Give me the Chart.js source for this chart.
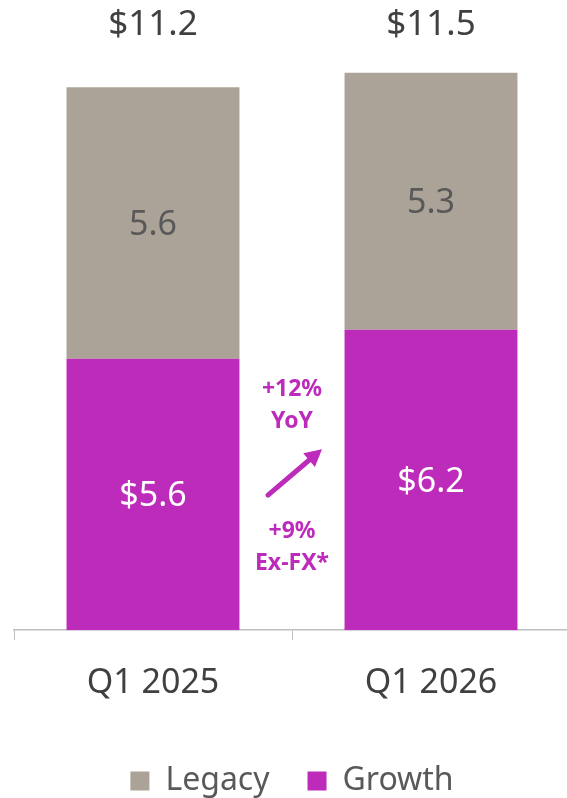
<!DOCTYPE html>
<html>
<head>
<meta charset="utf-8">
<script src="https://cdn.jsdelivr.net/npm/chart.js@4.4.1/dist/chart.umd.min.js"></script>
<style>
html, body { margin: 0; padding: 0; background: #fff; overflow: hidden; }
#wrap { width: 570px; height: 807px; }
</style>
</head>
<body>
<div id="wrap"><canvas id="revenueChart"></canvas></div>
<script>
'use strict';

var quarters = ['Q1 2025', 'Q1 2026'];
var growthValues = [5.6, 6.2];
var legacyValues = [5.6, 5.3];
var growthLabels = ['$5.6', '$6.2'];
var legacyLabels = ['5.6', '5.3'];
var yoyText = ['+12%', 'YoY'];
var exFxText = ['+9%', 'Ex-FX*'];

var FONT = '"Noto Sans", "DejaVu Sans", sans-serif';
var PURPLE = '#bd2bbb';
var TAUPE = '#aba397';

// totals above each bar, value labels inside each segment, and the YoY callout
var labelPlugin = {
    id: 'labels',
    afterDatasetsDraw: function (chart) {
        var ctx = chart.ctx;
        var area = chart.chartArea;
        var xScale = chart.scales.x;
        ctx.save();
        ctx.textAlign = 'center';
        ctx.textBaseline = 'middle';

        ctx.font = '35px ' + FONT;
        ctx.fillStyle = '#404040';
        quarters.forEach(function (q, i) {
            var total = growthValues[i] + legacyValues[i];
            ctx.fillText('$' + total.toFixed(1), xScale.getPixelForValue(i), area.top + 25);
        });

        chart.data.datasets.forEach(function (ds, di) {
            var meta = chart.getDatasetMeta(di);
            meta.data.forEach(function (bar, i) {
                var y = (bar.y + bar.base) / 2;
                ctx.font = '34px ' + FONT;
                ctx.fillStyle = ds.label === 'Growth' ? '#ffffff' : '#595959';
                ctx.fillText(ds.label === 'Growth' ? growthLabels[i] : legacyLabels[i], bar.x, y + 2);
            });
        });

        var cx = (xScale.getPixelForValue(0) + xScale.getPixelForValue(1)) / 2;
        var b = area.bottom;
        ctx.fillStyle = PURPLE;
        ctx.font = 'bold 23px ' + FONT;
        ctx.fillText(yoyText[0], cx, b - 241);
        ctx.fillText(yoyText[1], cx, b - 209);
        ctx.fillText(exFxText[0], cx, b - 99);
        ctx.fillText(exFxText[1], cx, b - 67);

        // arrow
        var x1 = cx - 24, y1 = b - 135, x2 = cx + 30, y2 = b - 181;
        var ang = Math.atan2(y2 - y1, x2 - x1);
        var head = 17;
        ctx.strokeStyle = PURPLE;
        ctx.lineWidth = 5;
        ctx.lineCap = 'round';
        ctx.beginPath();
        ctx.moveTo(x1, y1);
        ctx.lineTo(x2 - Math.cos(ang) * head * 0.8, y2 - Math.sin(ang) * head * 0.8);
        ctx.stroke();
        ctx.beginPath();
        ctx.moveTo(x2, y2);
        ctx.lineTo(x2 - head * Math.cos(ang) + 9 * Math.sin(ang), y2 - head * Math.sin(ang) - 9 * Math.cos(ang));
        ctx.lineTo(x2 - head * Math.cos(ang) - 9 * Math.sin(ang), y2 - head * Math.sin(ang) + 9 * Math.cos(ang));
        ctx.closePath();
        ctx.fill();
        ctx.restore();
    }
};

var ctx = document.getElementById('revenueChart');
var chart = new Chart(ctx, {
    type: 'bar',
    data: {
        labels: quarters,
        datasets: [{
            label: 'Growth',
            data: growthValues,
            backgroundColor: PURPLE,
            borderWidth: 0
        }, {
            label: 'Legacy',
            data: legacyValues,
            backgroundColor: TAUPE,
            borderWidth: 0
        }]
    },
    options: {
        responsive: true,
        maintainAspectRatio: false,
        animation: false,
        layout: { padding: { left: 14, right: 0, top: 0, bottom: 0 } },
        datasets: {
            bar: { categoryPercentage: 1, barPercentage: 0.622 }
        },
        scales: {
            x: {
                stacked: true,
                grid: {
                    offset: true,
                    drawOnChartArea: false,
                    drawTicks: true,
                    tickLength: 10,
                    tickColor: '#bfbfbf',
                    color: '#bfbfbf'
                },
                border: { display: true, color: '#bfbfbf', width: 1.5 },
                ticks: {
                    color: '#404040',
                    padding: 23,
                    font: { family: FONT, size: 34 }
                }
            },
            y: {
                stacked: true,
                display: false,
                min: 0,
                max: 13
            }
        },
        plugins: {
            tooltip: { enabled: false },
            legend: {
                position: 'bottom',
                reverse: true,
                labels: {
                    color: '#595959',
                    boxWidth: 19,
                    boxHeight: 19,
                    padding: 38,
                    font: { family: FONT, size: 32 }
                }
            }
        }
    },
    plugins: [labelPlugin]
});
</script>
</body>
</html>
